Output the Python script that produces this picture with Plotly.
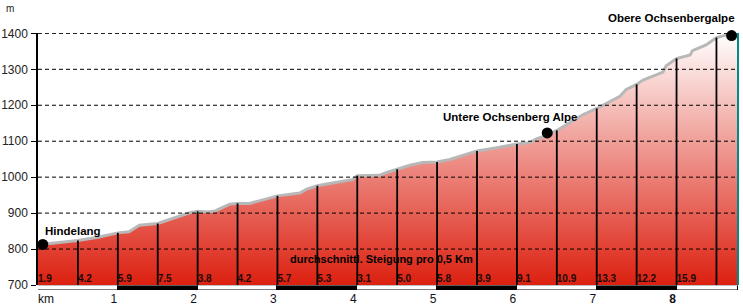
import numpy as np
import plotly.graph_objects as go

# ---------------- data ----------------
dist_km = [0.00, 0.25, 0.50, 0.75, 1.00, 1.14, 1.27, 1.50, 1.69, 1.90, 2.00, 2.12, 2.22, 2.40,
           2.50, 2.65, 3.00, 3.28, 3.36, 3.50, 3.69, 3.94, 4.00, 4.28, 4.37, 4.50, 4.66, 4.82,
           5.00, 5.16, 5.32, 5.50, 5.75, 6.00, 6.16, 6.25, 6.37, 6.50, 6.82, 7.00, 7.29, 7.37,
           7.50, 7.58, 7.83, 7.87, 8.00, 8.17, 8.20, 8.37, 8.50, 8.62, 8.77]
elev_m = [812, 818, 824, 833, 845, 848, 866, 871, 885, 901, 905, 903, 906, 925,
          927, 927, 948, 956, 966, 976, 984, 993, 1004, 1005, 1013, 1022, 1033, 1041,
          1042, 1049, 1061, 1073, 1082, 1092, 1096, 1107, 1115, 1130, 1173, 1191, 1225, 1244,
          1258, 1270, 1292, 1310, 1330, 1340, 1352, 1368, 1388, 1395, 1398]

seg_grade = [1.9, 4.2, 5.9, 7.5, 3.8, 4.2, 5.7, 5.3, 3.1, 5.0, 5.8, 3.9, 9.1, 10.9, 13.3, 12.2, 15.9]
seg_len_km = 0.5

place_names = ["Hindelang", "Untere Ochsenberg Alpe", "Obere Ochsenbergalpe"]
place_km = [0.06, 6.38, 8.69]
place_elev = [813, 1123, 1394]

km_ticks = [1, 2, 3, 4, 5, 6, 7, 8]
km_ticktext = ["1", "2", "3", "4", "5", "6", "7", "<b>8</b>"]
elev_ticks = [700, 800, 900, 1000, 1100, 1200, 1300, 1400]
grade_caption = "durchschnittl. Steigung pro 0,5 Km"

# ---------------- derived ----------------
total_km = dist_km[-1]
ymin, ymax = elev_ticks[0], elev_ticks[-1]
seg_start = [i * seg_len_km for i in range(len(seg_grade))]
half_marks = [seg_len_km * i for i in range(1, int(total_km / seg_len_km) + 1)]
half_elev = np.interp(half_marks, dist_km, elev_m)

FONT = "Liberation Sans, Arial, sans-serif"

fig = go.Figure()

# baseline for fill
fig.add_trace(go.Scatter(x=[0, total_km], y=[ymin, ymin], mode="lines",
                         line=dict(width=0, color="rgba(0,0,0,0)"), hoverinfo="skip"))
# profile with vertical gradient fill
fig.add_trace(go.Scatter(
    x=dist_km, y=elev_m, mode="lines", fill="tonexty",
    fillgradient=dict(type="vertical", colorscale=[[0, "#dc2010"], [1, "#ffffff"]],
                      start=ymin, stop=ymax),
    line=dict(color="#b8b8b8", width=3), hoverinfo="skip"))

# vertical segment lines
vx, vy = [], []
for k, e in zip(half_marks, half_elev):
    vx += [k, k, None]
    vy += [ymin, e, None]
fig.add_trace(go.Scatter(x=vx, y=vy, mode="lines", line=dict(color="black", width=1.8),
                         hoverinfo="skip"))

# dashed grid lines on top
gx, gy = [], []
for t in elev_ticks[1:]:
    gx += [0, total_km, None]
    gy += [t, t, None]
fig.add_trace(go.Scatter(x=gx, y=gy, mode="lines",
                         line=dict(color="black", width=1, dash="4px,3px"), hoverinfo="skip"))

# grade labels
fig.add_trace(go.Scatter(x=seg_start, y=[716] * len(seg_grade), mode="text",
                         text=[f"<b>{g:.1f}</b>" for g in seg_grade], textposition="middle right",
                         textfont=dict(family=FONT, size=10, color="#1a0a08"),
                         hoverinfo="skip", cliponaxis=False))

# place markers
fig.add_trace(go.Scatter(x=place_km, y=place_elev, mode="markers",
                         marker=dict(color="black", size=11), cliponaxis=False, hoverinfo="skip"))

# km strip
edges = [0] + km_ticks + [total_km]
centers = [(a + b) / 2 for a, b in zip(edges[:-1], edges[1:])]
widths = [b - a for a, b in zip(edges[:-1], edges[1:])]
colors = ["white" if i % 2 == 0 else "black" for i in range(len(centers))]
fig.add_trace(go.Bar(x=centers, y=[1] * len(centers), width=widths, base=0,
                     marker=dict(color=colors, line=dict(color="black", width=1)),
                     xaxis="x2", yaxis="y2", hoverinfo="skip"))

W, H = 743, 308
mt, mb, ml, mr = 33, 18, 38, 5
ph = H - mt - mb
main_lo = 5 / ph
strip_hi = 4.5 / ph

annotations = []
offs = [dict(xanchor="left", xshift=0, yshift=13),
        dict(xanchor="center", xshift=-37, yshift=16),
        dict(xanchor="right", xshift=5, yshift=18)]
for name, k, e, o in zip(place_names, place_km, place_elev, offs):
    annotations.append(dict(x=k, y=e, xref="x", yref="y", text=f"<b>{name}</b>",
                            showarrow=False, yanchor="middle",
                            font=dict(family=FONT, size=11.5, color="black"), **o))
annotations.append(dict(x=4.30, y=771, xref="x", yref="y", text=f"<b>{grade_caption}</b>",
                        showarrow=False, xanchor="center", yanchor="middle",
                        font=dict(family=FONT, size=11, color="black")))
annotations.append(dict(x=0, y=0, xref="x", yref="paper", text="km", showarrow=False,
                        xanchor="left", yanchor="top", xshift=-2,
                        font=dict(family=FONT, size=12, color="#111111")))
annotations.append(dict(x=-0.04, y=1 + 32 / ph, xref="paper", yref="paper", text="m",
                        showarrow=False, xanchor="center", yanchor="top",
                        font=dict(family=FONT, size=10, color="#222222")))

fig.update_layout(
    width=W, height=H, margin=dict(t=mt, b=mb, l=ml, r=mr, pad=0, autoexpand=False),
    paper_bgcolor="white", plot_bgcolor="white", showlegend=False,
    font=dict(family=FONT, size=12, color="#222222"),
    bargap=0,
    xaxis=dict(domain=[0, 1], range=[0, total_km], showticklabels=False, showgrid=False,
               zeroline=False, showline=False, ticks="", anchor="y", automargin=False),
    yaxis=dict(domain=[main_lo, 1], range=[ymin, ymax + 1], tickvals=elev_ticks,
               ticks="outside", ticklen=5, tickcolor="black", tickwidth=1,
               showline=True, linecolor="black", linewidth=1.5, showgrid=False,
               zeroline=False, ticklabelstandoff=1, anchor="x", automargin=False,
               tickfont=dict(family=FONT, size=12, color="#222222")),
    xaxis2=dict(domain=[0, 1], matches="x", anchor="y2", tickvals=km_ticks,
                ticktext=km_ticktext, ticks="", showline=False, showgrid=False,
                zeroline=False, ticklabelshift=-4, automargin=False,
                tickfont=dict(family=FONT, size=12, color="#111122")),
    yaxis2=dict(domain=[0, strip_hi], range=[0, 1], visible=False, anchor="x2",
                automargin=False),
    annotations=annotations,
    shapes=[dict(type="line", xref="paper", yref="paper", x0=1, x1=1, y0=main_lo, y1=1,
                 line=dict(color="#008b8b", width=2))],
)

fig.write_html("out.html")
